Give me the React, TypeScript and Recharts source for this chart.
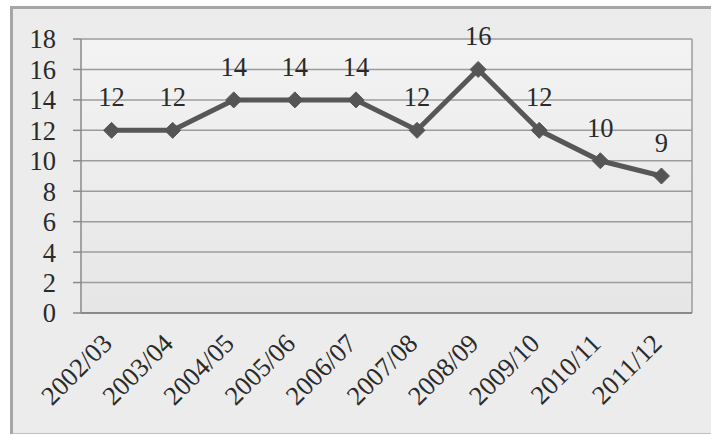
import React from 'react';
import { LineChart, Line, XAxis, YAxis, CartesianGrid, LabelList, ReferenceLine } from 'recharts';

const categories = ['2002/03', '2003/04', '2004/05', '2005/06', '2006/07', '2007/08', '2008/09', '2009/10', '2010/11', '2011/12'];
const values = [12, 12, 14, 14, 14, 12, 16, 12, 10, 9];
const yTicks = [0, 2, 4, 6, 8, 10, 12, 14, 16, 18];

const data = categories.map((c, i) => ({ name: c, pos: i + 0.5, value: values[i] }));
const boundaryTicks = categories.map((_, i) => i).concat([categories.length]);
const centerTicks = categories.map((_, i) => i + 0.5);

const FONT = '"Liberation Serif", "DejaVu Serif", serif';

const Diamond = (props: any) => {
  const { cx, cy } = props;
  if (cx == null || cy == null) return null;
  const r = 8;
  return <polygon points={`${cx},${cy - r} ${cx + r},${cy} ${cx},${cy + r} ${cx - r},${cy}`} fill="#555" stroke="#555" strokeWidth={1} />;
};

const XLabel = (props: any) => {
  const { x, y, payload } = props;
  const label = categories[Math.floor(payload.value)];
  const ax = x + 2;
  const ay = y + 16;
  return (
    <text
      x={ax}
      y={ay}
      transform={`rotate(-45, ${ax}, ${ay})`}
      textAnchor="end"
      fontFamily={FONT}
      fontSize={26.5}
      fill="#2a2a2a"
    >
      {label}
    </text>
  );
};

export default function App() {
  return (
    <div style={{ position: 'absolute', left: 0, top: 0, width: 711, height: 434, background: '#fff' }}>
      <div
        style={{
          position: 'absolute',
          left: 10,
          top: 6,
          width: 720,
          height: 424,
          borderLeft: '3px solid #a6a6a6',
          borderTop: '3px solid #a6a6a6',
          borderBottom: '2px solid #bdbdbd',
          background: '#ececec',
        }}
      />
      <div style={{ position: 'absolute', left: 0, top: 0 }}>
        <LineChart width={711} height={434} data={data} margin={{ top: 39, right: 19, left: 21, bottom: 21 }}>
          <defs>
            <linearGradient id="plotBg" x1="0" y1="0" x2="0" y2="1">
              <stop offset="0%" stopColor="#f3f3f3" />
              <stop offset="100%" stopColor="#e6e6e6" />
            </linearGradient>
          </defs>
          <CartesianGrid vertical={false} stroke="#9c9c9c" strokeWidth={1.5} fill="url(#plotBg)" fillOpacity={1} />
          <XAxis
            xAxisId="b"
            dataKey="pos"
            type="number"
            domain={[0, categories.length]}
            ticks={boundaryTicks}
            tick={false}
            tickSize={7}
            height={8}
            stroke="#8a8a8a"
            strokeWidth={2}
            allowDataOverflow
          />
          <XAxis
            xAxisId="l"
            dataKey="pos"
            type="number"
            domain={[0, categories.length]}
            ticks={centerTicks}
            tick={<XLabel />}
            tickLine={false}
            axisLine={false}
            height={92}
            interval={0}
          />
          <YAxis
            domain={[0, 18]}
            ticks={yTicks}
            width={60}
            tickSize={8}
            tickMargin={17}
            stroke="#8a8a8a"
            strokeWidth={1.5}
            interval={0}
            tick={{ fontFamily: FONT, fontSize: 26.5, fill: '#2a2a2a' }}
          />
          <ReferenceLine xAxisId="b" x={categories.length} stroke="#9c9c9c" strokeWidth={1.5} />
          <Line
            xAxisId="b"
            type="linear"
            dataKey="value"
            stroke="#575757"
            strokeWidth={5}
            dot={<Diamond />}
            activeDot={false}
            isAnimationActive={false}
          >
            <LabelList dataKey="value" position="top" offset={24} fontFamily={FONT} fontSize={26.5} fill="#2a2a2a" />
          </Line>
        </LineChart>
      </div>
    </div>
  );
}
